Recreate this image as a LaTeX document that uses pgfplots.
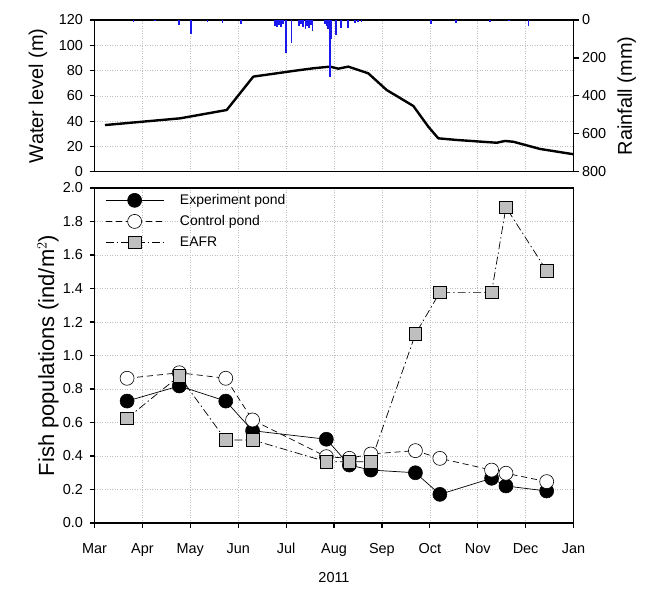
\documentclass[border=0pt]{standalone}
\usepackage{fontspec}
\setmainfont{Liberation Sans}
\usepackage{pgfplots}
\pgfplotsset{compat=1.18}
\definecolor{gridc}{gray}{0.75}
\definecolor{sqc}{gray}{0.75}
\definecolor{rainc}{RGB}{25,25,235}
\begin{document}
\begin{tikzpicture}
\useasboundingbox (0,0) rectangle (663bp,594bp);
\pgfplotsset{
  base/.style={
    scale only axis, width=479bp,
    xmin=0, xmax=10, xtick={0,1,...,10},
    /pgf/number format/assume math mode=true,
    tick label style={font=\fontsize{14.5}{16}\selectfont},
    yticklabel style={xshift=-3bp},
    xticklabel style={yshift=-12bp},
    label style={font=\fontsize{20}{22}\selectfont},
    axis line style={line width=1.6bp},
    major tick length=5bp, tick style={line width=1.2bp, black},
    tick align=outside,
    grid=major, grid style={gridc, line width=0.6bp, dash pattern=on 1bp off 1.5bp},
  }
}
% ---------- top panel: water level ----------
\begin{axis}[base, at={(94.5bp,422.3bp)}, anchor=south west, height=151.7bp,
  ymin=0, ymax=120, ytick={0,20,...,120}, ytick pos=left,
  xticklabels={}, xtick style={draw=none},
  ylabel={Water level (m)},
  ylabel style={at={(axis description cs:-0.118,0.5)}, anchor=center}]
\addplot[black, line width=2.4bp, line join=round] coordinates {
(0.219,36.9) (1.785,42.2) (2.76,48.8) (3.315,75.2) (4.15,79.7) (4.568,81.8)
(4.916,83.1) (5.09,81.5) (5.30,83.1) (5.716,77.8) (6.10,64.6) (6.656,52.0)
(6.969,35.6) (7.177,26.4) (7.562,25.1) (8.397,22.9) (8.57,24.3) (8.743,23.7)
(9.30,18.0) (10.0,13.8)};
\end{axis}
% ---------- top panel: rainfall ----------
\begin{axis}[scale only axis, width=479bp, height=151.7bp,
  at={(94.5bp,422.3bp)}, anchor=south west,
  xmin=0, xmax=10, ymin=0, ymax=800, y dir=reverse,
  axis x line=none, axis y line*=right,
  ytick={0,200,...,800},
  /pgf/number format/assume math mode=true,
  tick label style={font=\fontsize{14.5}{16}\selectfont},
  label style={font=\fontsize{20}{22}\selectfont},
  axis line style={line width=1.6bp},
  major tick length=5bp, tick style={line width=1.2bp, black},
  tick align=outside,
  ylabel={Rainfall (mm)},
  ylabel style={at={(axis description cs:1.111,0.5)}, anchor=center}]
\addplot[ycomb, rainc, line width=1.3bp, mark=none] coordinates {
(0.81,10) (1.263,5) (1.764,24) (2.015,72) (2.363,10) (2.676,15) (3.058,20)
(3.768,30) (3.810,38) (3.852,25) (3.894,35) (3.935,20) (3.998,175) (4.117,120)
(4.269,30) (4.311,20) (4.353,35) (4.409,45) (4.436,30) (4.478,40) (4.520,25)
(4.555,58) (4.812,20) (4.843,30) (4.875,50) (4.902,175) (4.916,300) (4.948,100)
(5.042,77) (5.146,40) (5.292,40) (5.438,15) (5.501,10) (5.578,12) (7.025,22)
(7.547,15) (8.257,10) (8.653,7) (9.056,30)};
\end{axis}
% ---------- bottom panel: fish populations ----------
\begin{axis}[base, at={(94.5bp,71bp)}, anchor=south west, height=335bp,
  ymin=0, ymax=2, ytick={0,0.2,0.4,0.6,0.8,1.0,1.2,1.4,1.6,1.8,2.0},
  yticklabel style={/pgf/number format/.cd, fixed, fixed zerofill, precision=1},
  xticklabels={Mar,Apr,May,Jun,Jul,Aug,Sep,Oct,Nov,Dec,Jan},
  xtick pos=bottom, ytick pos=left,
  xlabel={2011},
  xlabel style={font=\fontsize{14.5}{16}\selectfont, at={(axis description cs:0.5,-0.162)}, anchor=center},
  ylabel={Fish populations (ind/m$^2$)},
  ylabel style={font=\fontsize{22}{24}\selectfont, at={(axis description cs:-0.097,0.5)}, anchor=center},
  legend style={at={(axis description cs:0.02,0.99)}, anchor=north west, draw=none, fill=none,
    font=\fontsize{14}{16}\selectfont, row sep=5.5bp, inner sep=1bp},
  legend cell align=left,
  legend image code/.code={\draw[mark repeat=2,mark phase=2] plot coordinates {(0bp,0bp) (29bp,0bp) (58bp,0bp)};\path (72bp,0bp);},
  ]
\addplot[black, line width=0.7bp, mark=*, mark size=7bp, mark options={solid, fill=black, draw=black, line width=0.6bp}] coordinates {
(0.68,0.728) (1.77,0.818) (2.74,0.728) (3.30,0.551) (4.84,0.500) (5.32,0.346)
(5.77,0.316) (6.70,0.300) (7.21,0.171) (8.29,0.267) (8.59,0.221) (9.44,0.191)};
\addlegendentry{Experiment pond}
\addplot[black, line width=0.7bp, dash pattern=on 6bp off 4bp, mark=*, mark size=7bp, mark options={solid, fill=white, draw=black, line width=0.6bp}] coordinates {
(0.68,0.864) (1.77,0.897) (2.74,0.864) (3.30,0.615) (4.84,0.396) (5.32,0.386)
(5.77,0.412) (6.70,0.432) (7.21,0.386) (8.29,0.316) (8.59,0.297) (9.44,0.247)};
\addlegendentry{Control pond}
\addplot[black, line width=0.7bp, dash pattern=on 8bp off 3bp on 1.5bp off 3bp, mark=square*, mark size=6.3bp, mark options={solid, fill=sqc, draw=black, line width=0.6bp}] coordinates {
(0.68,0.625) (1.77,0.878) (2.74,0.496) (3.30,0.496) (4.84,0.366) (5.32,0.366)
(5.77,0.366) (6.70,1.128) (7.21,1.377) (8.29,1.377) (8.59,1.885) (9.44,1.506)};
\addlegendentry{EAFR}
\end{axis}
\end{tikzpicture}
\end{document}
